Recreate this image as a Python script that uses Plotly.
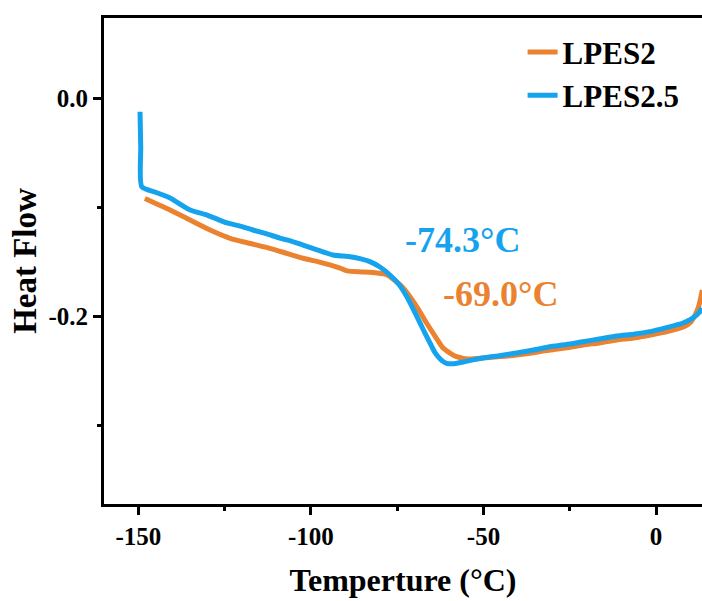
import plotly.graph_objects as go

# ---- data ----
lpes2_T = [-148.1, -140.8, -135.0, -129.2, -123.4, -117.5, -111.9, -107.0, -102.3, -97.5, -92.4,
           -89.5, -85.0, -80.9, -78.0, -76.2, -73.8, -71.3, -68.8, -66.5, -64.0, -61.7, -59.6,
           -57.8, -55.8, -53.9, -50.2, -45.0, -40.4, -35.5, -30.7, -26.0, -21.2, -16.5, -11.4,
           -6.5, -1.6, 3.5, 7.9, 10.0, 11.3, 12.3, 12.8, 13.4]
lpes2_HF = [-0.0918, -0.1023, -0.1115, -0.1206, -0.1282, -0.1330, -0.1374, -0.1420, -0.1465,
            -0.1500, -0.1545, -0.1580, -0.1590, -0.1600, -0.1615, -0.1655, -0.1720, -0.1817,
            -0.1935, -0.2058, -0.2180, -0.2287, -0.2335, -0.2366, -0.2382, -0.2387, -0.2378,
            -0.2365, -0.2351, -0.2330, -0.2305, -0.2285, -0.2259, -0.2240, -0.2214, -0.2195,
            -0.2168, -0.2135, -0.2095, -0.2050, -0.1985, -0.1910, -0.1847, -0.1756]

lpes25_T = [-149.5, -149.3, -149.0, -145.0, -140.8, -135.0, -130.1, -124.3, -120.5, -116.8,
            -113.0, -109.0, -105.5, -102.3, -98.0, -93.6, -90.5, -88.7, -85.5, -82.9, -80.0,
            -77.1, -74.6, -72.2, -69.8, -67.4, -65.6, -64.0, -62.3, -60.7, -58.5, -55.9, -53.0,
            -50.2, -45.0, -40.4, -35.5, -30.8, -26.0, -21.2, -16.5, -11.4, -6.5, -1.8, 3.0,
            7.8, 10.0, 11.8, 12.8, 13.3]
lpes25_HF = [-0.0123, -0.0450, -0.0810, -0.0860, -0.0913, -0.1023, -0.1069, -0.1142, -0.1170,
             -0.1206, -0.1240, -0.1280, -0.1310, -0.1344, -0.1390, -0.1435, -0.1445, -0.1451,
             -0.1470, -0.1496, -0.1545, -0.1618, -0.1700, -0.1817, -0.1965, -0.2122, -0.2235,
             -0.2332, -0.2395, -0.2427, -0.2430, -0.2415, -0.2395, -0.2378, -0.2355, -0.2332,
             -0.2305, -0.2275, -0.2255, -0.2229, -0.2205, -0.2177, -0.2160, -0.2137, -0.2100,
             -0.2058, -0.2025, -0.1984, -0.1950, -0.1920]

series_names = ["LPES2", "LPES2.5"]
tg_labels = ["-74.3°C", "-69.0°C"]

x_tick_vals = [-150, -100, -50, 0]
x_tick_text = ["-150", "-100", "-50", "0"]
x_minor_vals = [-125, -75, -25]
y_tick_vals = [0.0, -0.2]
y_tick_text = ["0.0", "-0.2"]
y_minor_vals = [-0.1, -0.3]

ORANGE = "#EA8230"
BLUE = "#16A3EE"
FONT = "Liberation Serif, Times New Roman, serif"

fig = go.Figure()
fig.add_trace(go.Scatter(x=lpes2_T, y=lpes2_HF, mode="lines", name=series_names[0],
                         line=dict(color=ORANGE, width=5, shape="spline", smoothing=0.6)))
fig.add_trace(go.Scatter(x=lpes25_T, y=lpes25_HF, mode="lines", name=series_names[1],
                         line=dict(color=BLUE, width=5, shape="spline", smoothing=0.6)))

fig.add_annotation(x=-56.2, y=-0.1298, xref="x", yref="y", text=tg_labels[0], showarrow=False,
                   font=dict(family=FONT, size=36, color=BLUE, weight="bold"))
fig.add_annotation(x=-45.2, y=-0.179, xref="x", yref="y", text=tg_labels[1], showarrow=False,
                   font=dict(family=FONT, size=36, color=ORANGE, weight="bold"))

fig.update_layout(
    width=702, height=601,
    margin=dict(l=104, r=0, t=18, b=97, autoexpand=False),
    paper_bgcolor="white", plot_bgcolor="white",
    font=dict(family=FONT, color="black", weight="bold"),
    showlegend=True,
    legend=dict(x=0.70, y=0.985, xanchor="left", yanchor="top",
                font=dict(family=FONT, size=31, color="black", weight="bold"),
                bgcolor="rgba(0,0,0,0)", tracegroupgap=0, itemwidth=30),
)
fig.update_xaxes(
    range=[-159.94, 13.3], showgrid=False, zeroline=False,
    showline=True, linecolor="black", linewidth=3, mirror=True,
    ticks="outside", ticklen=8, tickwidth=3, tickcolor="black",
    tickmode="array", tickvals=x_tick_vals, ticktext=x_tick_text,
    tickfont=dict(family=FONT, size=25, color="black", weight="bold"),
    minor=dict(tickmode="array", tickvals=x_minor_vals, ticks="outside", ticklen=4,
               tickwidth=3, tickcolor="black", showgrid=False),
    title=dict(text="Temperture (°C)", standoff=20,
               font=dict(family=FONT, size=32, color="black", weight="bold")),
)
fig.update_yaxes(
    range=[-0.3715, 0.0735], showgrid=False, zeroline=False,
    showline=True, linecolor="black", linewidth=3, mirror=False,
    ticks="outside", ticklen=8, tickwidth=3, tickcolor="black",
    tickmode="array", tickvals=y_tick_vals, ticktext=y_tick_text,
    tickfont=dict(family=FONT, size=25, color="black", weight="bold"),
    minor=dict(tickmode="array", tickvals=y_minor_vals, ticks="outside", ticklen=4,
               tickwidth=3, tickcolor="black", showgrid=False),
    title=dict(text="Heat Flow", standoff=2,
               font=dict(family=FONT, size=33, color="black", weight="bold")),
)

fig.write_html("out.html", config={"displayModeBar": False},
               post_script="document.body.style.margin='0';document.body.style.overflow='hidden';")
